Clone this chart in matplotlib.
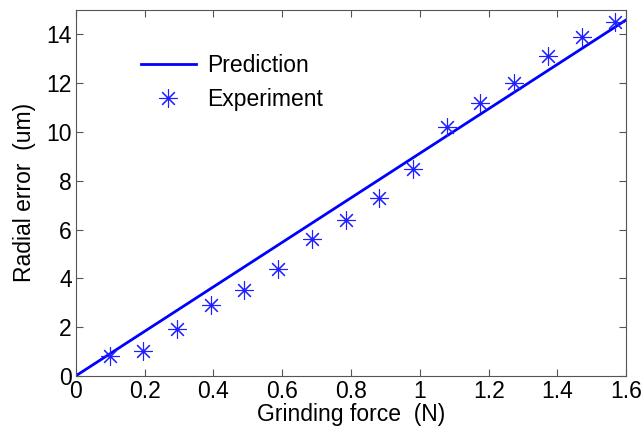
import matplotlib
matplotlib.use("Agg")
import matplotlib.pyplot as plt
import numpy as np

plt.rcParams['font.family'] = ['Liberation Sans', 'DejaVu Sans']

# prediction line (linear model)
pred_force = [0.0, 1.6]
pred_error = [0.0, 14.6]

# measured points
exp_force = [0.098, 0.196, 0.294, 0.392, 0.49, 0.588, 0.686, 0.784,
             0.882, 0.98, 1.078, 1.176, 1.274, 1.372, 1.47, 1.568]
exp_error = [0.8, 1.0, 1.9, 2.9, 3.5, 4.4, 5.6, 6.4,
             7.3, 8.5, 10.2, 11.2, 12.0, 13.1, 13.9, 14.5]


def make_graph():
    fig = plt.figure(figsize=(6.43, 4.37), dpi=100)
    ax = fig.add_axes([0.118, 0.14, 0.856, 0.837])
    ax.plot(pred_force, pred_error, color="#0000ff", lw=2, label="Prediction")
    ax.plot(exp_force, exp_error, ls="none", marker=(8, 2, 0), ms=13,
            mec="#2020ff", mew=0.8, label="Experiment")
    ax.set_xlim(0, 1.6)
    ax.set_ylim(0, 15)
    ax.set_xticks(np.arange(0, 1.61, 0.2))
    ax.set_xticklabels(["0", "0.2", "0.4", "0.6", "0.8", "1", "1.2", "1.4", "1.6"])
    ax.set_yticks(range(0, 15, 2))
    ax.tick_params(direction="in", top=True, right=True, labelsize=16.5,
                   length=5, color="#555555", pad=3)
    for sp in ax.spines.values():
        sp.set_color("#555555")
    ax.set_xlabel("Grinding force  (N)", fontsize=16.5, labelpad=0)
    ax.set_ylabel("Radial error  (um)", fontsize=16.5, labelpad=7)
    ax.legend(loc="upper left", bbox_to_anchor=(0.08, 0.935), frameon=False,
              fontsize=16.5, handlelength=2.4, handletextpad=0.5, labelspacing=0.45)
    fig.savefig("out.png")


if __name__ == '__main__':
    make_graph()
